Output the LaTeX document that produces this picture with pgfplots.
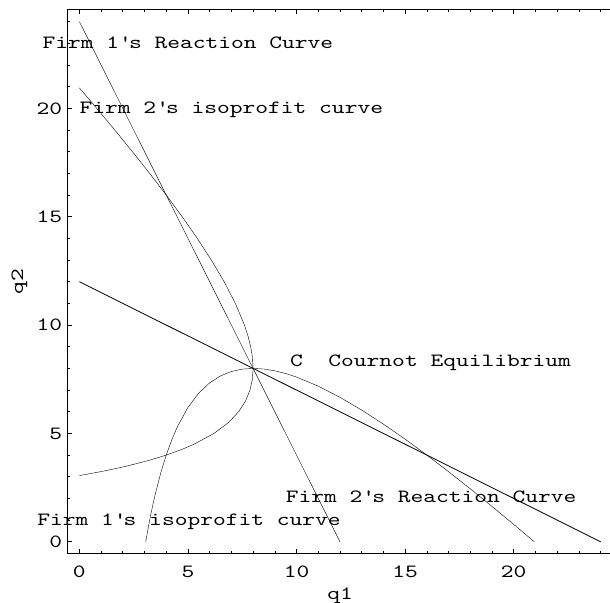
\documentclass[border=0pt]{standalone}
\usepackage{fontspec}
\newfontfamily\courfont{lmmono10-regular.otf}[FakeStretch=1.3]
\usepackage{pgfplots}
\pgfplotsset{compat=1.18}
\newcommand{\cf}{\courfont\fontsize{18.7bp}{22bp}\selectfont}
\newcommand{\q}{\textquotesingle}
\begin{document}
\begin{tikzpicture}
\begin{axis}[
  scale only axis, width=545.6bp, height=544.4bp,
  xmin=-0.55, xmax=24.57, ymin=-0.55, ymax=24.57,
  clip=false,
  xtick={0,5,10,15,20}, ytick={0,5,10,15,20},
  minor xtick={0,1,...,24}, minor ytick={0,1,...,24},
  ytick pos=left,
  tick align=inside,
  major tick length=5bp, minor tick length=2.5bp,
  tick style={black, line width=0.6bp},
  axis line style={black, line width=0.8bp},
  /pgf/number format/assume math mode=true,
  tick label style={font=\cf},
  xticklabel style={yshift=-8.4bp},
  yticklabel style={xshift=-1.8bp},
  xlabel={q1}, ylabel={q2},
  every axis x label/.style={at={(axis cs:12.01,-2.66)}, anchor=base, font=\cf, inner sep=0pt},
  every axis y label/.style={at={(axis cs:-2.59,12.01)}, anchor=base, rotate=90, font=\cf, inner sep=0pt},
  cycle list={{black, line width=0.8bp, no markers}},
]
\coordinate (SW) at (rel axis cs:0,0);
% Firm 1's reaction curve
\addplot coordinates {(0,24) (12,0)};
% Firm 2's reaction curve
\addplot coordinates {(0,12) (24,0)};
% Firm 1's isoprofit curve
\addplot coordinates {
(3.0557,0) (3.1,0.2548) (3.2,0.8) (3.3,1.3061) (3.4,1.7765) (3.5,2.2143)
(3.75,3.1833) (4,4) (4.25,4.6912) (4.5,5.2778) (5,6.2) (5.5,6.8636)
(6,7.3333) (6.5,7.6538) (7,7.8571) (7.5,7.9667) (8,8) (8.5,7.9706)
(9,7.8889) (9.5,7.7632) (10,7.6) (11,7.1818) (12,6.6667) (13,6.0769)
(14,5.4286) (15,4.7333) (16,4) (17,3.2353) (18,2.4444) (19,1.6316)
(20,0.8) (20.5,0.378) (20.944,0)
};
% Firm 2's isoprofit curve
\addplot coordinates {
(0,3.0557) (0.2548,3.1) (0.8,3.2) (1.3061,3.3) (1.7765,3.4) (2.2143,3.5)
(3.1833,3.75) (4,4) (4.6912,4.25) (5.2778,4.5) (6.2,5) (6.8636,5.5)
(7.3333,6) (7.6538,6.5) (7.8571,7) (7.9667,7.5) (8,8) (7.9706,8.5)
(7.8889,9) (7.7632,9.5) (7.6,10) (7.1818,11) (6.6667,12) (6.0769,13)
(5.4286,14) (4.7333,15) (4,16) (3.2353,17) (2.4444,18) (1.6316,19)
(0.8,20) (0.378,20.5) (0,20.944)
};
\begin{scope}[every node/.style={font=\cf, inner sep=0pt, anchor=base, yshift=-5.5bp}]
\node at (axis cs:5,23) {Firm 1\q s Reaction Curve};
\node at (axis cs:7,20) {Firm 2\q s isoprofit curve};
\node at (axis cs:16.17,8.35) {C~~Cournot Equilibrium};
\node at (axis cs:16.2,2.08) {Firm 2\q s Reaction Curve};
\node at (axis cs:5.05,1) {Firm 1\q s isoprofit curve};
\end{scope}
\end{axis}
\pgfresetboundingbox
\useasboundingbox ([shift={(-67.4bp,-49.3bp)}]SW) rectangle ([shift={(542.6bp,553.7bp)}]SW);
\end{tikzpicture}
\end{document}
